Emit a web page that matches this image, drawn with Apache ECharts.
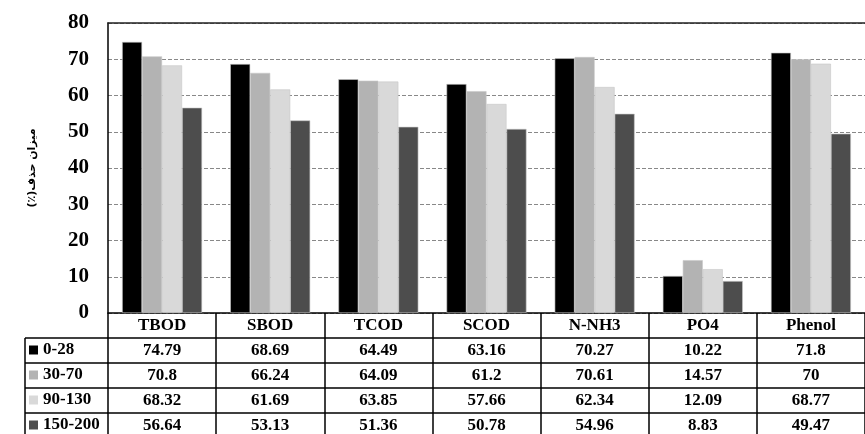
<!DOCTYPE html>
<html>
<head>
<meta charset="utf-8">
<script src="https://cdn.jsdelivr.net/npm/echarts@6/dist/echarts.min.js"></script>
<style>
html,body{margin:0;padding:0;background:#fff;}
#chart{width:865px;height:434px;}
</style>
</head>
<body>
<div id="chart"></div>
<script>
var categories = ['TBOD','SBOD','TCOD','SCOD','N-NH3','PO4','Phenol'];
var seriesNames = ['0-28','30-70','90-130','150-200'];
var s0_28 = [74.79, 68.69, 64.49, 63.16, 70.27, 10.22, 71.8];
var s30_70 = [70.8, 66.24, 64.09, 61.2, 70.61, 14.57, 70];
var s90_130 = [68.32, 61.69, 63.85, 57.66, 62.34, 12.09, 68.77];
var s150_200 = [56.64, 53.13, 51.36, 50.78, 54.96, 8.83, 49.47];
var yTicks = [0, 10, 20, 30, 40, 50, 60, 70, 80];

var rows = [s0_28, s30_70, s90_130, s150_200];
var colors = ['#000000','#b3b3b3','#d9d9d9','#4d4d4d'];
var serif = '"Liberation Serif", "Times New Roman", serif';

var chart = echarts.init(document.getElementById('chart'));

// table rows under the plot are drawn as extra x axes
var xAxes = [{
    type: 'category',
    data: categories,
    position: 'bottom',
    axisLine: { lineStyle: { color: '#000', width: 1.5 } },
    axisTick: { show: true, interval: 0, length: 121, lineStyle: { color: '#000', width: 1.5 } },
    axisLabel: { interval: 0, margin: 12.5, verticalAlign: 'middle', color: '#000',
        fontFamily: serif, fontWeight: 'bold', fontSize: 17 }
}];
rows.forEach(function (vals, k) {
    xAxes.push({
        type: 'category',
        data: categories,
        position: 'bottom',
        offset: 25 * (k + 1),
        axisLine: { lineStyle: { color: '#000', width: 1.5 } },
        axisTick: { show: false },
        axisLabel: { interval: 0, margin: 12.5, verticalAlign: 'middle', color: '#000',
            fontFamily: serif, fontWeight: 'bold', fontSize: 17,
            formatter: function (v, i) { return String(vals[i]); } }
    });
});
xAxes.push({
    type: 'category',
    data: categories,
    position: 'top',
    axisLine: { lineStyle: { color: '#222', width: 1.5 } },
    axisTick: { show: false },
    axisLabel: { show: false }
});

var series = seriesNames.map(function (name, k) {
    return {
        name: name,
        type: 'bar',
        data: rows[k],
        barWidth: 20,
        barGap: '0%',
        itemStyle: { color: colors[k], borderColor: '#c8c8c8', borderWidth: 0.6 }
    };
});

var option = {
    animation: false,
    backgroundColor: '#fff',
    grid: { left: 108, top: 23, width: 761, height: 290 },
    legend: {
        orient: 'vertical',
        left: 29,
        top: 341.5,
        padding: 0,
        itemGap: 8,
        itemWidth: 9,
        itemHeight: 9,
        icon: 'rect',
        selectedMode: false,
        data: seriesNames,
        itemStyle: { borderWidth: 0 },
        textStyle: { fontFamily: serif, fontWeight: 'bold', fontSize: 17, color: '#000' }
    },
    xAxis: xAxes,
    yAxis: {
        type: 'value',
        min: yTicks[0],
        max: yTicks[yTicks.length - 1],
        interval: 10,
        name: 'میزان حذف(٪)\u200F',
        nameLocation: 'middle',
        nameRotate: 90,
        nameGap: 70,
        nameTextStyle: { fontFamily: '"DejaVu Sans", sans-serif', fontWeight: 'bold', fontSize: 11, color: '#000' },
        axisLine: { show: true, lineStyle: { color: '#000', width: 1.5 } },
        axisTick: { show: false },
        axisLabel: { margin: 19, color: '#000', fontFamily: serif, fontWeight: 'bold', fontSize: 21 },
        splitLine: { show: true, lineStyle: { color: '#888', type: 'dashed', width: 1 } }
    },
    graphic: [
        { type: 'line', shape: { x1: 25, y1: 338, x2: 108, y2: 338 }, style: { stroke: '#000', lineWidth: 1.5 } },
        { type: 'line', shape: { x1: 25, y1: 363, x2: 108, y2: 363 }, style: { stroke: '#000', lineWidth: 1.5 } },
        { type: 'line', shape: { x1: 25, y1: 388, x2: 108, y2: 388 }, style: { stroke: '#000', lineWidth: 1.5 } },
        { type: 'line', shape: { x1: 25, y1: 413, x2: 108, y2: 413 }, style: { stroke: '#000', lineWidth: 1.5 } },
        { type: 'line', shape: { x1: 25, y1: 338, x2: 25, y2: 434 }, style: { stroke: '#000', lineWidth: 1.5 } }
    ],
    series: series
};
chart.setOption(option);
</script>
</body>
</html>
